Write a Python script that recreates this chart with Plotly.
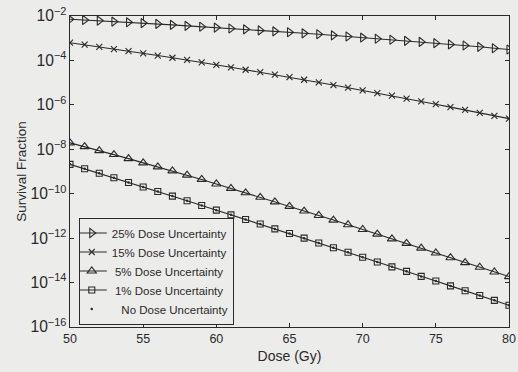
import plotly.graph_objects as go

# Dose grid (Gy)
dose = list(range(50, 81))

# Survival fraction for each level of dose uncertainty
sf_25 = [7.1e-3, 6.6e-3, 6.2e-3, 5.6e-3, 5.2e-3, 4.8e-3, 4.4e-3, 4.0e-3, 3.6e-3, 3.3e-3,
         3.0e-3, 2.75e-3, 2.5e-3, 2.24e-3, 2.04e-3, 1.86e-3, 1.66e-3, 1.51e-3, 1.35e-3, 1.2e-3,
         1.07e-3, 9.5e-4, 8.5e-4, 7.6e-4, 6.8e-4, 6.0e-4, 5.25e-4, 4.7e-4, 4.1e-4, 3.55e-4,
         3.1e-4]
sf_15 = [6.3e-4, 5.1e-4, 4.1e-4, 3.2e-4, 2.6e-4, 2.1e-4, 1.66e-4, 1.32e-4, 1.05e-4, 8.1e-5,
         6.3e-5, 4.9e-5, 3.8e-5, 2.95e-5, 2.3e-5, 1.78e-5, 1.35e-5, 1.02e-5, 7.8e-6, 5.9e-6,
         4.5e-6, 3.4e-6, 2.6e-6, 1.9e-6, 1.45e-6, 1.07e-6, 7.9e-7, 5.9e-7, 4.4e-7, 3.2e-7,
         2.4e-7]
sf_5 = [1.95e-8, 1.32e-8, 8.7e-9, 5.8e-9, 3.8e-9, 2.45e-9, 1.62e-9, 1.07e-9, 6.9e-10, 4.4e-10,
        2.75e-10, 1.74e-10, 1.1e-10, 6.9e-11, 4.3e-11, 2.7e-11, 1.66e-11, 1.05e-11, 6.5e-12, 4.0e-12,
        2.45e-12, 1.51e-12, 9.3e-13, 5.8e-13, 3.55e-13, 2.14e-13, 1.32e-13, 7.9e-14, 4.9e-14, 3.0e-14,
        1.86e-14]
sf_1 = [2.1e-9, 1.32e-9, 8.3e-10, 5.2e-10, 3.2e-10, 2.0e-10, 1.26e-10, 7.8e-11, 4.8e-11, 2.95e-11,
        1.82e-11, 1.12e-11, 6.9e-12, 4.3e-12, 2.6e-12, 1.62e-12, 1.0e-12, 6.0e-13, 3.7e-13, 2.3e-13,
        1.38e-13, 8.5e-14, 5.1e-14, 3.2e-14, 1.9e-14, 1.17e-14, 7.1e-15, 4.3e-15, 2.6e-15, 1.58e-15,
        9.5e-16]
sf_0 = [2.1e-9, 1.32e-9, 8.3e-10, 5.2e-10, 3.2e-10, 2.0e-10, 1.26e-10, 7.8e-11, 4.8e-11, 2.95e-11,
        1.82e-11, 1.12e-11, 6.9e-12, 4.3e-12, 2.6e-12, 1.62e-12, 1.0e-12, 6.0e-13, 3.7e-13, 2.3e-13,
        1.38e-13, 8.5e-14, 5.1e-14, 3.2e-14, 1.9e-14, 1.17e-14, 7.1e-15, 4.3e-15, 2.6e-15, 1.58e-15,
        9.5e-16]

labels = ["25% Dose Uncertainty", "15% Dose Uncertainty",
          "\u00a05% Dose Uncertainty", "\u00a01% Dose Uncertainty",
          "\u00a0\u00a0\u00a0No Dose Uncertainty"]

ink = "#2a2a2a"
paper = "#ececea"
font_family = "Liberation Sans, Arial, Helvetica, sans-serif"

series = [
    (sf_25, labels[0], "triangle-right-open", 8),
    (sf_15, labels[1], "x-thin-open", 6),
    (sf_5, labels[2], "triangle-up-open", 8),
    (sf_1, labels[3], "square-open", 6),
]

fig = go.Figure()
for ys, name, sym, sz in series:
    fig.add_trace(go.Scatter(
        x=dose, y=ys, name=name, mode="lines+markers",
        line=dict(color=ink, width=1.1),
        marker=dict(symbol=sym, size=sz, color=ink, line=dict(color=ink, width=1.1)),
    ))
fig.add_trace(go.Scatter(
    x=dose, y=sf_0, name=labels[4], mode="markers",
    marker=dict(symbol="circle", size=2.5, color=ink),
))

axis_common = dict(
    showline=True, linecolor=ink, linewidth=1.2, mirror="ticks",
    ticks="inside", ticklen=4, tickcolor=ink, tickwidth=1,
    showgrid=False, zeroline=False, ticklabeloverflow="allow",
    tickfont=dict(family=font_family, size=12.5, color=ink),
)

fig.update_layout(
    width=518, height=372,
    margin=dict(l=70, r=2, t=16, b=45),
    paper_bgcolor=paper, plot_bgcolor=paper,
    font=dict(family=font_family, color=ink),
    xaxis=dict(range=[50, 80], dtick=5, tick0=50,
               title=dict(text="Dose (Gy)", font=dict(size=14, color=ink), standoff=6),
               **axis_common),
    yaxis=dict(type="log", range=[-16, -2], dtick=2, exponentformat="power",
               title=dict(text="Survival Fraction", font=dict(size=13.5, color=ink), standoff=0),
               **axis_common),
    legend=dict(
        x=0.02, y=0.008, xanchor="left", yanchor="bottom",
        bgcolor=paper, bordercolor=ink, borderwidth=1,
        font=dict(family=font_family, size=11.5, color=ink),
        tracegroupgap=0, itemwidth=30, indentation=-8,
    ),
    showlegend=True,
)

fig.write_html("out.html")
